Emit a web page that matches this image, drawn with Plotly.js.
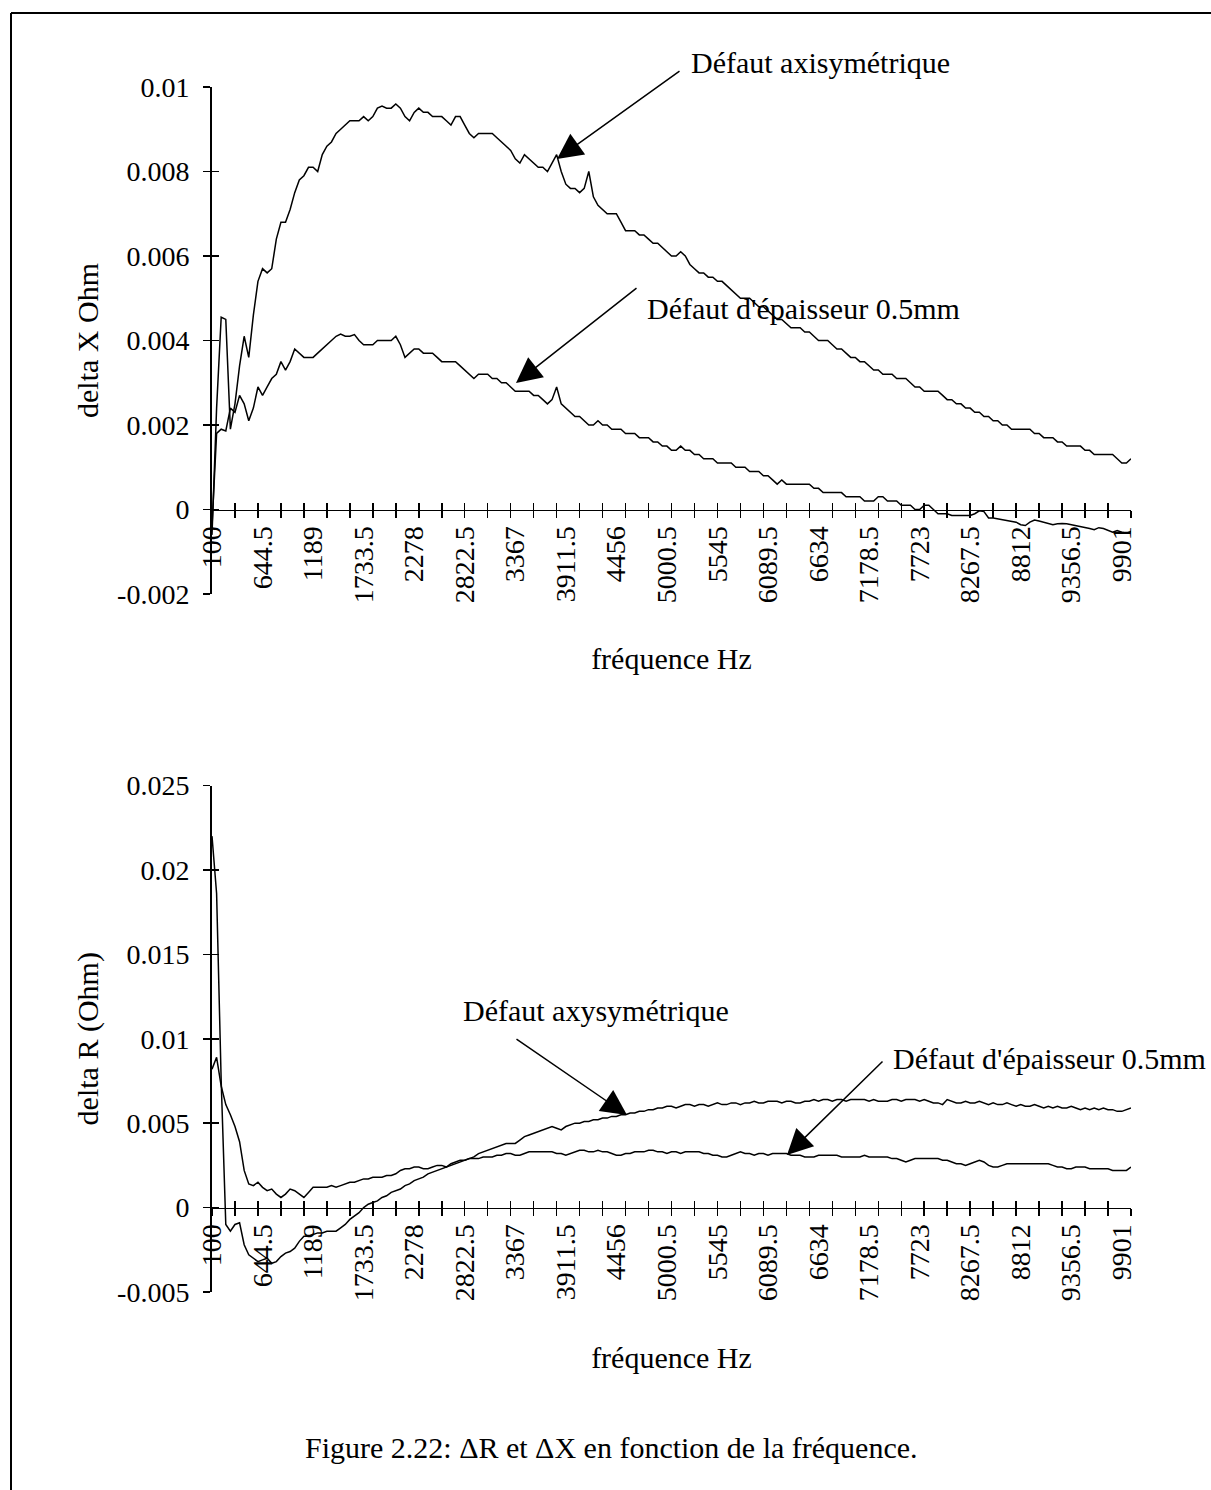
<!DOCTYPE html>
<html><head><meta charset="utf-8">
<script src="https://cdn.plot.ly/plotly-3.0.1.min.js"></script>
<style>html,body{margin:0;padding:0;background:#fff}</style>
</head><body><div id="chart" style="width:1211px;height:1490px"></div>
<script>
// ---- categories (frequency, Hz) ----
const freqStart = 100, freqStep = 49.5, nPts = 201;
const frequencies = Array.from({length: nPts}, (_, i) => String(freqStart + freqStep * i));
const xTickLabels = ['100','644.5','1189','1733.5','2278','2822.5','3367','3911.5','4456','5000.5',
  '5545','6089.5','6634','7178.5','7723','8267.5','8812','9356.5','9901'];

// ---- delta X (Ohm) ----
const deltaX_axisym = [
 -0.0006,0.0024,0.00455,0.0045,0.0019,0.0025,0.0034,0.0041,0.0036,0.0046,
 0.0054,0.0057,0.0056,0.0057,0.0064,0.0068,0.0068,0.0071,0.0075,0.0078,
 0.0079,0.0081,0.0081,0.0080,0.0084,0.0086,0.0087,0.0089,0.0090,0.0091,
 0.0092,0.0092,0.0092,0.0093,0.0092,0.0093,0.0095,0.00955,0.0095,0.0095,
 0.0096,0.0095,0.0093,0.0092,0.0094,0.0095,0.0094,0.0094,0.0093,0.0093,
 0.0093,0.0092,0.0091,0.0093,0.0093,0.0091,0.0089,0.0088,0.0089,0.0089,
 0.0089,0.0089,0.0088,0.0087,0.0086,0.0085,0.0083,0.0082,0.0084,0.0083,
 0.0082,0.0081,0.0081,0.0080,0.0082,0.0084,0.0080,0.0077,0.0076,0.0076,
 0.0075,0.0076,0.0080,0.0074,0.0072,0.0071,0.0070,0.0070,0.0070,0.0068,
 0.0066,0.0066,0.0066,0.0065,0.0065,0.0064,0.0063,0.0063,0.0062,0.0061,
 0.0060,0.0060,0.0061,0.0060,0.0058,0.0057,0.0056,0.0056,0.0055,0.0055,
 0.0054,0.0054,0.0053,0.0052,0.0051,0.0050,0.0050,0.0050,0.0049,0.0048,
 0.0048,0.0047,0.0046,0.0045,0.0045,0.0044,0.0043,0.0043,0.0043,0.0042,
 0.0042,0.0041,0.0040,0.0040,0.0040,0.0039,0.0038,0.0038,0.0037,0.0036,
 0.0036,0.0035,0.0035,0.0034,0.0033,0.0033,0.0032,0.0032,0.0032,0.0031,
 0.0031,0.0031,0.0030,0.0029,0.0029,0.0028,0.0028,0.0028,0.0028,0.0027,
 0.0026,0.0026,0.0025,0.0025,0.0024,0.0024,0.0023,0.0023,0.0022,0.0022,
 0.0021,0.0021,0.0020,0.0020,0.0019,0.0019,0.0019,0.0019,0.0019,0.0018,
 0.0018,0.0017,0.0017,0.0017,0.0016,0.0016,0.0015,0.0015,0.0015,0.0015,
 0.0014,0.0014,0.0013,0.0013,0.0013,0.0013,0.0013,0.0012,0.0011,0.0011,
 0.0012];
const deltaX_epaisseur = [
 -0.0004,0.0018,0.0019,0.00186,0.0024,0.0023,0.0027,0.0025,0.0021,0.0024,
 0.0029,0.0027,0.0029,0.0031,0.0032,0.0035,0.0033,0.0035,0.0038,0.0037,
 0.0036,0.0036,0.0036,0.0037,0.0038,0.0039,0.0040,0.0041,0.00415,0.0041,
 0.0041,0.00414,0.0040,0.0039,0.0039,0.0039,0.0040,0.0040,0.0040,0.0040,
 0.0041,0.0039,0.0036,0.0037,0.0038,0.0038,0.0037,0.0037,0.0037,0.0036,
 0.0035,0.0035,0.0035,0.0035,0.0034,0.0033,0.0032,0.0031,0.0032,0.0032,
 0.0032,0.0031,0.0031,0.0030,0.0030,0.0029,0.0028,0.0028,0.0028,0.0028,
 0.0027,0.0027,0.0026,0.0025,0.0026,0.0029,0.0025,0.0024,0.0023,0.0022,
 0.0022,0.0021,0.0020,0.0020,0.0021,0.0020,0.0020,0.0019,0.0019,0.0019,
 0.0018,0.0018,0.0018,0.0017,0.0017,0.0017,0.0016,0.0016,0.0015,0.0015,
 0.0014,0.0014,0.0015,0.0014,0.0014,0.0013,0.0013,0.0012,0.0012,0.0012,
 0.0011,0.0011,0.0011,0.0011,0.0010,0.0010,0.0010,0.0009,0.0009,0.0009,
 0.0008,0.0008,0.0007,0.0006,0.0007,0.0006,0.0006,0.0006,0.0006,0.0006,
 0.0006,0.0005,0.0005,0.0004,0.0004,0.0004,0.0004,0.0004,0.0003,0.0003,
 0.0003,0.0003,0.0002,0.0002,0.0002,0.0003,0.0003,0.0002,0.0002,0.0002,
 0.0001,0.0001,0.0001,0.0000,0.0000,0.0001,0.0001,0.0000,-0.0001,-0.0001,
 -0.0001,-0.00014,-0.00014,-0.00013,-0.00014,-0.00014,-0.0001,-0.00003,-0.00005,-0.0002,
 -0.0002,-0.00022,-0.00024,-0.00026,-0.00028,-0.0003,-0.00036,-0.00038,-0.0003,-0.00025,
 -0.00027,-0.0003,-0.00034,-0.00036,-0.00034,-0.00033,-0.00034,-0.00036,-0.00038,-0.0004,
 -0.00042,-0.00045,-0.00048,-0.00043,-0.00045,-0.0005,-0.00054,-0.0005,-0.00054,-0.00056,
 -0.00052];

// ---- delta R (Ohm) ----
const deltaR_axisym = [
 0.022,0.0186,0.0075,-0.0010,-0.0014,-0.0010,-0.0009,-0.0022,-0.0028,-0.0030,
 -0.0032,-0.0031,-0.0030,-0.0033,-0.0032,-0.0029,-0.0027,-0.0026,-0.0024,-0.0020,
 -0.0017,-0.0017,-0.0016,-0.0015,-0.0015,-0.0014,-0.0014,-0.0014,-0.0012,-0.0010,
 -0.0007,-0.0005,-0.0003,0.0000,0.0002,0.0003,0.0004,0.0006,0.0007,0.0009,
 0.0010,0.0011,0.0013,0.0014,0.0016,0.0017,0.0018,0.0020,0.0021,0.0022,
 0.0023,0.0024,0.0025,0.0026,0.0027,0.0028,0.0029,0.0030,0.0032,0.0033,
 0.0034,0.0035,0.0036,0.0037,0.0038,0.0038,0.0038,0.0040,0.0042,0.0043,
 0.0044,0.0045,0.0046,0.0047,0.0048,0.0047,0.0046,0.0048,0.0049,0.0050,
 0.0050,0.0051,0.0051,0.0052,0.0052,0.0053,0.0053,0.0054,0.0054,0.0055,
 0.0055,0.0056,0.0056,0.0057,0.0057,0.0058,0.0058,0.0059,0.0059,0.0060,
 0.0060,0.0059,0.0060,0.0061,0.0061,0.0060,0.0061,0.0061,0.0060,0.0061,
 0.0062,0.0061,0.0061,0.0062,0.0062,0.0061,0.0062,0.0062,0.0063,0.0062,
 0.0062,0.0063,0.0063,0.0063,0.0062,0.0063,0.0063,0.0062,0.0062,0.0063,
 0.0063,0.0064,0.0063,0.0064,0.0064,0.0063,0.0064,0.0064,0.0063,0.0064,
 0.0064,0.0064,0.0064,0.0063,0.0064,0.0063,0.0063,0.0063,0.0064,0.0064,
 0.0063,0.0064,0.0064,0.0064,0.0063,0.0064,0.0063,0.0062,0.0062,0.0061,
 0.0064,0.0063,0.0062,0.0062,0.0063,0.0062,0.0062,0.0063,0.0062,0.0061,
 0.0062,0.0061,0.0061,0.0062,0.0061,0.0060,0.0061,0.0060,0.0060,0.0061,
 0.0060,0.0059,0.0060,0.0059,0.0060,0.0059,0.0059,0.0060,0.0059,0.0058,
 0.0059,0.0058,0.0059,0.0058,0.0059,0.0058,0.0058,0.0057,0.0057,0.0058,
 0.0059];
const deltaR_epaisseur = [
 0.0082,0.0089,0.0072,0.0061,0.0055,0.0048,0.0039,0.0022,0.0014,0.0013,
 0.0015,0.0012,0.0010,0.0011,0.0008,0.0006,0.0008,0.0011,0.0010,0.0008,
 0.0006,0.0009,0.0012,0.0012,0.0012,0.0012,0.0013,0.0012,0.0013,0.0014,
 0.0015,0.0015,0.0016,0.0017,0.0017,0.0018,0.0018,0.0018,0.0019,0.0019,
 0.0020,0.0022,0.0023,0.0023,0.0024,0.0024,0.0023,0.0023,0.0024,0.0025,
 0.0025,0.0024,0.0026,0.0027,0.0028,0.0028,0.0029,0.0029,0.0029,0.0030,
 0.0030,0.0030,0.0031,0.0031,0.0032,0.0032,0.0031,0.0031,0.0032,0.0033,
 0.0033,0.0033,0.0033,0.0033,0.0033,0.0032,0.0032,0.0031,0.0032,0.0033,
 0.0034,0.0034,0.0033,0.0033,0.0034,0.0033,0.0033,0.0032,0.0031,0.0031,
 0.0032,0.0032,0.0033,0.0033,0.0033,0.0034,0.0034,0.0033,0.0033,0.0032,
 0.0033,0.0033,0.0032,0.0033,0.0033,0.0033,0.0033,0.0032,0.0032,0.0031,
 0.0031,0.0030,0.0030,0.0031,0.0032,0.0033,0.0032,0.0032,0.0031,0.0032,
 0.0032,0.0031,0.0032,0.0032,0.0032,0.0032,0.0031,0.0031,0.0031,0.0030,
 0.0030,0.0030,0.0031,0.0031,0.0031,0.0031,0.0031,0.0030,0.0030,0.0030,
 0.0030,0.0030,0.0031,0.0030,0.0030,0.0030,0.0030,0.0030,0.0029,0.0029,
 0.0028,0.0027,0.0028,0.0029,0.0029,0.0029,0.0029,0.0029,0.0029,0.0028,
 0.0028,0.0027,0.0026,0.0026,0.0025,0.0026,0.0027,0.0028,0.0027,0.0025,
 0.0024,0.0024,0.0025,0.0026,0.0026,0.0026,0.0026,0.0026,0.0026,0.0026,
 0.0026,0.0026,0.0026,0.0025,0.0024,0.0024,0.0023,0.0023,0.0024,0.0024,
 0.0024,0.0023,0.0023,0.0023,0.0023,0.0023,0.0022,0.0022,0.0022,0.0022,
 0.0024];

// ---- y tick labels ----
const yTicksX = [-0.002, 0, 0.002, 0.004, 0.006, 0.008, 0.01];
const yTickTextX = ['-0.002','0','0.002','0.004','0.006','0.008','0.01'];
const yTicksR = [-0.005, 0, 0.005, 0.01, 0.015, 0.02, 0.025];
const yTickTextR = ['-0.005','0','0.005','0.01','0.015','0.02','0.025'];

// ---- layout geometry ----
const W = 1211, H = 1490;
const M = {l: 212, r: 80, t: 87, b: 198};
const PW = W - M.l - M.r, PH = H - M.t - M.b;
const px2X = px => (px - M.l) / PW;
const px2Y = py => (H - M.b - py) / PH;
const FONT = '"Liberation Serif", "Times New Roman", serif';
const BLACK = '#000';
const rangeTop = [-0.002, 0.01], rangeBot = [-0.005, 0.025];
const domTop = [px2Y(594), 1], domBot = [0, px2Y(785.5)];
const zeroPos = (d, r) => d[0] + (d[1] - d[0]) * (0 - r[0]) / (r[1] - r[0]);
const posTop = zeroPos(domTop, rangeTop), posBot = zeroPos(domBot, rangeBot);
const nCat = frequencies.length - 1;

const tickFont = {family: FONT, size: 28, color: BLACK};
const titleFont = {family: FONT, size: 30, color: BLACK};

function labelXAxis(pos, title) {
  return {type: 'category', range: [0, nCat], anchor: 'free', position: pos, domain: [0, 1],
    showline: true, linecolor: BLACK, linewidth: 1.5, ticks: '',
    tickmode: 'array', tickvals: xTickLabels, ticktext: xTickLabels, tickangle: -90,
    ticklabelstandoff: 4, tickfont: tickFont, showgrid: false, zeroline: false,
    title: {text: title, font: titleFont, standoff: 46}, automargin: false};
}
function tickXAxis(pos, overlay, side) {
  return {type: 'linear', overlaying: overlay, anchor: 'free', position: pos, domain: [0, 1],
    range: [0, nCat], tickmode: 'linear', tick0: 0, dtick: 5, ticks: side, ticklen: 7,
    tickwidth: 1.5, tickcolor: BLACK, showticklabels: false, showline: false,
    showgrid: false, zeroline: false};
}
function labelYAxis(dom, range, vals, text, title) {
  return {domain: dom, range: range, anchor: 'x', tickmode: 'array', tickvals: vals, ticktext: text,
    ticks: 'outside', ticklen: 7, tickwidth: 1.5, tickcolor: BLACK, showline: true, linewidth: 2,
    linecolor: BLACK, showgrid: false, zeroline: false, tickfont: tickFont, ticklabelstandoff: 8,
    title: {text: title, font: titleFont, standoff: 10}, automargin: false};
}
function tickYAxis(overlay, anchorX, range, vals) {
  return {overlaying: overlay, anchor: anchorX, side: 'left', range: range, tickmode: 'array',
    tickvals: vals, ticks: 'inside', ticklen: 7, tickwidth: 1.5, tickcolor: BLACK,
    showticklabels: false, showline: false, showgrid: false, zeroline: false};
}

const lineStyle = {color: BLACK, width: 1.5};
const data = [
  {x: frequencies, y: deltaX_axisym, xaxis: 'x', yaxis: 'y', mode: 'lines', line: lineStyle, name: 'Défaut axisymétrique'},
  {x: frequencies, y: deltaX_epaisseur, xaxis: 'x', yaxis: 'y', mode: 'lines', line: lineStyle, name: "Défaut d'épaisseur 0.5mm"},
  {x: frequencies, y: deltaR_axisym, xaxis: 'x2', yaxis: 'y2', mode: 'lines', line: lineStyle, name: 'Défaut axysymétrique'},
  {x: frequencies, y: deltaR_epaisseur, xaxis: 'x2', yaxis: 'y2', mode: 'lines', line: lineStyle, name: "Défaut d'épaisseur 0.5mm"},
  // empty helper traces so the tick-only axes are drawn
  {x: [], y: [], xaxis: 'x3', yaxis: 'y', showlegend: false, hoverinfo: 'skip'},
  {x: [], y: [], xaxis: 'x5', yaxis: 'y', showlegend: false, hoverinfo: 'skip'},
  {x: [], y: [], xaxis: 'x4', yaxis: 'y2', showlegend: false, hoverinfo: 'skip'},
  {x: [], y: [], xaxis: 'x6', yaxis: 'y2', showlegend: false, hoverinfo: 'skip'},
  {x: [], y: [], xaxis: 'x', yaxis: 'y3', showlegend: false, hoverinfo: 'skip'},
  {x: [], y: [], xaxis: 'x2', yaxis: 'y4', showlegend: false, hoverinfo: 'skip'}
];

// annotation helpers (paper coordinates from page pixels)
function arrow(headPx, headPy, tailPx, tailPy) {
  return {xref: 'paper', yref: 'paper', x: px2X(headPx), y: px2Y(headPy),
    axref: 'pixel', ayref: 'pixel', ax: tailPx - headPx, ay: tailPy - headPy,
    text: '', showarrow: true, arrowhead: 2, arrowsize: 3.4, arrowwidth: 1.5,
    arrowcolor: BLACK, standoff: 0};
}
function label(leftPx, midPy, text) {
  return {xref: 'paper', yref: 'paper', x: px2X(leftPx), y: px2Y(midPy), text: text,
    showarrow: false, xanchor: 'left', yanchor: 'middle', font: titleFont};
}

const layout = {
  width: W, height: H, margin: M, paper_bgcolor: '#fff', plot_bgcolor: 'rgba(0,0,0,0)',
  showlegend: false, font: {family: FONT, color: BLACK},
  xaxis: labelXAxis(posTop, 'fréquence Hz'),
  xaxis2: labelXAxis(posBot, 'fréquence Hz'),
  xaxis3: tickXAxis(posTop, 'x', 'outside'),
  xaxis5: tickXAxis(posTop, 'x', 'inside'),
  xaxis4: tickXAxis(posBot, 'x2', 'outside'),
  xaxis6: tickXAxis(posBot, 'x2', 'inside'),
  yaxis: labelYAxis(domTop, rangeTop, yTicksX, yTickTextX, 'delta X Ohm'),
  yaxis2: Object.assign(labelYAxis(domBot, rangeBot, yTicksR, yTickTextR, 'delta R (Ohm)'), {anchor: 'x2'}),
  yaxis3: tickYAxis('y', 'x', rangeTop, yTicksX),
  yaxis4: tickYAxis('y2', 'x2', rangeBot, yTicksR),
  annotations: [
    label(689, 62, 'Défaut axisymétrique'),
    arrow(557, 159, 681, 70),
    label(645, 308, "Défaut d'épaisseur 0.5mm"),
    arrow(516, 383, 638, 287),
    label(461, 1011, 'Défaut axysymétrique'),
    arrow(627, 1115, 515, 1038),
    label(891, 1058, "Défaut d'épaisseur 0.5mm"),
    arrow(787, 1155, 884, 1060),
    {xref: 'paper', yref: 'paper', x: px2X(611), y: px2Y(1447), xanchor: 'center', yanchor: 'middle',
     showarrow: false, text: 'Figure 2.22: ΔR et ΔX en fonction de la fréquence.', font: titleFont}
  ],
  shapes: [
    {type: 'line', xref: 'paper', yref: 'paper', x0: px2X(11), x1: px2X(11), y0: px2Y(13), y1: px2Y(H), line: {color: BLACK, width: 2}},
    {type: 'line', xref: 'paper', yref: 'paper', x0: px2X(11), x1: px2X(W), y0: px2Y(13), y1: px2Y(13), line: {color: BLACK, width: 2}}
  ]
};

Plotly.newPlot('chart', data, layout, {staticPlot: true, displayModeBar: false});
</script></body></html>
